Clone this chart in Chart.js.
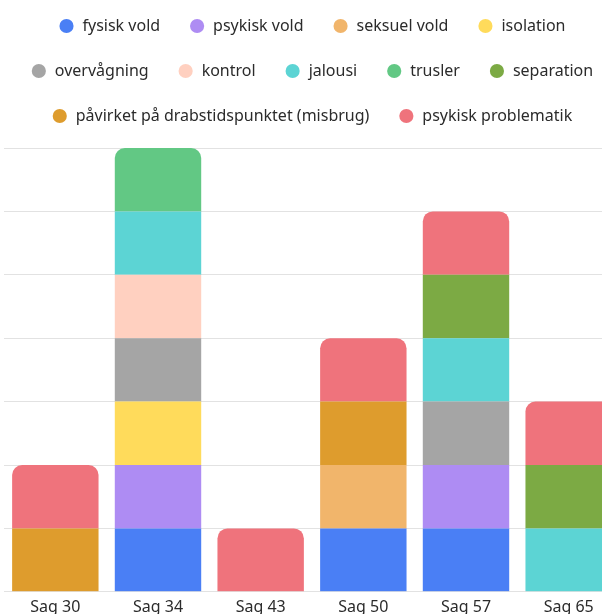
<!DOCTYPE html>
<html>
<head>
<meta charset="utf-8">
<script src="https://cdn.jsdelivr.net/npm/chart.js@4"></script>
<style>
  html, body { margin: 0; padding: 0; background: #fff; overflow: hidden; }
  #wrap { position: relative; width: 624px; height: 626px; margin-top: -11px; }
</style>
</head>
<body>
<div id="wrap"><canvas id="chart"></canvas></div>
<script>
const cases = ["Sag 30", "Sag 34", "Sag 43", "Sag 50", "Sag 57", "Sag 65"];

// one value per case, same order as cases
const fysiskVold = [0, 1, 0, 1, 1, 0];
const psykiskVold = [0, 1, 0, 0, 1, 0];
const seksuelVold = [0, 0, 0, 1, 0, 0];
const isolation = [0, 1, 0, 0, 0, 0];
const overvaagning = [0, 1, 0, 0, 1, 0];
const kontrol = [0, 1, 0, 0, 0, 0];
const jalousi = [0, 1, 0, 0, 1, 1];
const trusler = [0, 1, 0, 0, 0, 0];
const separation = [0, 0, 0, 0, 1, 1];
const paavirket = [1, 0, 0, 1, 0, 0];
const psykiskProblematik = [1, 0, 1, 1, 1, 1];

const series = [
  { label: "fysisk vold", data: fysiskVold, color: "#4a7ff5" },
  { label: "psykisk vold", data: psykiskVold, color: "#ae8cf3" },
  { label: "seksuel vold", data: seksuelVold, color: "#f1b56b" },
  { label: "isolation", data: isolation, color: "#ffdb5b" },
  { label: "overvågning", data: overvaagning, color: "#a5a5a5" },
  { label: "kontrol", data: kontrol, color: "#ffd0c0" },
  { label: "jalousi", data: jalousi, color: "#5cd4d4" },
  { label: "trusler", data: trusler, color: "#62c884" },
  { label: "separation", data: separation, color: "#7caa44" },
  { label: "påvirket på drabstidspunktet (misbrug)", data: paavirket, color: "#de9c2d" },
  { label: "psykisk problematik", data: psykiskProblematik, color: "#ef737c" },
];

Chart.defaults.font.family = "'Noto Sans', sans-serif";
Chart.defaults.font.size = 16;
Chart.defaults.color = "#2b2b2b";

// let the legend rows be a bit wider, and leave room under it
const legendSpace = {
  id: "legendSpace",
  beforeInit(chart) {
    const fit = chart.legend.fit;
    chart.legend.fit = function () {
      this.maxWidth = 640;
      fit.call(this);
      this.height += 14;
    };
  },
  afterLayout(chart) {
    chart.legend.left -= 10;
    chart.legend.right += 10;
  },
};

new Chart(document.getElementById("chart"), {
  type: "bar",
  data: {
    labels: cases,
    datasets: series.map((s) => ({
      label: s.label,
      data: s.data,
      backgroundColor: s.color,
      borderRadius: 10,
    })),
  },
  options: {
    responsive: true,
    maintainAspectRatio: false,
    animation: false,
    layout: { padding: { left: 4, right: 4 } },
    datasets: { bar: { categoryPercentage: 0.93, barPercentage: 0.905 } },
    plugins: {
      legend: {
        labels: {
          usePointStyle: true,
          pointStyle: "circle",
          boxWidth: 16,
          boxHeight: 10,
          padding: 29,
        },
      },
      tooltip: { enabled: false },
    },
    scales: {
      x: {
        stacked: true,
        grid: { display: false },
        border: { display: false },
        ticks: { padding: -2 },
      },
      y: {
        stacked: true,
        display: true,
        min: 0,
        max: 7,
        ticks: { display: false, stepSize: 1 },
        grid: { drawTicks: false, color: "#e2e2e2" },
        border: { display: false },
      },
    },
  },
  plugins: [legendSpace],
});
</script>
</body>
</html>
